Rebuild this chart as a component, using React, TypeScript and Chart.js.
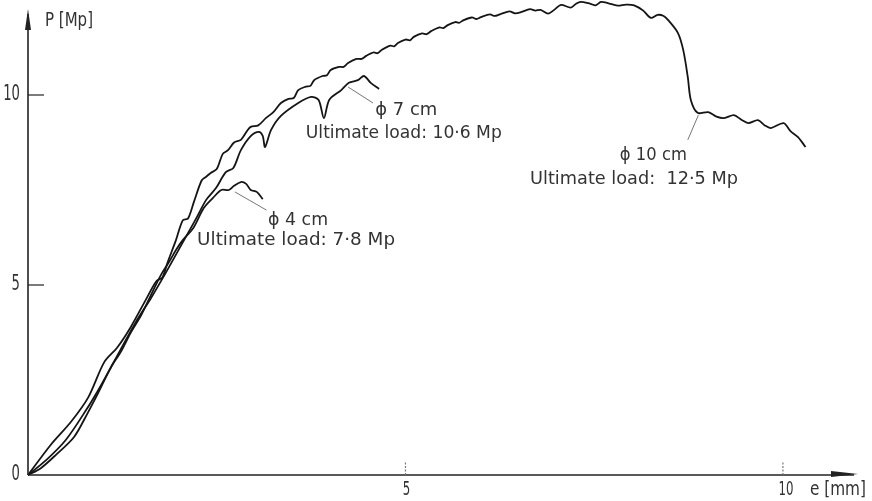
import React, { useEffect, useRef } from "react";
import { Chart, registerables } from "chart.js";

Chart.register(...registerables);

// Load P [Mp] against elongation e [mm]
const curve10cm: [number, number][] = [
  [0, 0], [0.3, 0.79], [0.57, 1.4], [0.8, 2.05], [1.01, 2.97], [1.18, 3.35], [1.36, 3.89],
  [1.56, 4.61], [1.7, 5.1], [1.78, 5.2], [1.85, 5.6], [1.96, 6.18], [2.05, 6.7], [2.12, 6.75],
  [2.2, 7.2], [2.3, 7.75], [2.36, 7.85], [2.42, 7.95], [2.5, 8.05], [2.58, 8.45], [2.65, 8.55],
  [2.73, 8.75], [2.82, 8.82], [2.9, 9.05], [2.95, 9.16], [3.05, 9.2], [3.15, 9.39], [3.25, 9.55],
  [3.35, 9.79], [3.45, 9.9], [3.52, 9.92], [3.58, 10.13], [3.68, 10.22], [3.74, 10.24],
  [3.79, 10.39], [3.9, 10.5], [3.96, 10.52], [4.01, 10.66], [4.12, 10.74], [4.18, 10.74],
  [4.24, 10.84], [4.35, 10.95], [4.42, 10.95], [4.48, 11.03], [4.58, 11.12], [4.63, 11.1],
  [4.68, 11.18], [4.8, 11.3], [4.85, 11.28], [4.9, 11.37], [5.0, 11.46], [5.06, 11.44],
  [5.11, 11.53], [5.22, 11.62], [5.28, 11.6], [5.34, 11.68], [5.45, 11.78], [5.5, 11.76],
  [5.56, 11.84], [5.66, 11.92], [5.71, 11.9], [5.77, 11.97], [5.88, 12.04], [5.94, 12.0],
  [6.0, 12.05], [6.12, 12.12], [6.18, 12.08], [6.26, 12.13], [6.38, 12.2], [6.45, 12.15],
  [6.53, 12.18], [6.65, 12.26], [6.72, 12.22], [6.79, 12.24], [6.89, 12.14], [6.97, 12.24],
  [7.06, 12.37], [7.19, 12.3], [7.26, 12.4], [7.32, 12.45], [7.45, 12.4], [7.52, 12.36],
  [7.59, 12.45], [7.68, 12.42], [7.81, 12.35], [7.92, 12.38], [8.03, 12.36], [8.15, 12.22],
  [8.25, 12.03], [8.34, 12.11], [8.42, 12.08], [8.48, 11.97], [8.61, 11.63], [8.68, 11.18],
  [8.74, 10.47], [8.78, 9.87], [8.87, 9.53], [9.01, 9.55], [9.12, 9.43], [9.22, 9.39],
  [9.35, 9.47], [9.45, 9.35], [9.54, 9.26], [9.67, 9.34], [9.76, 9.2], [9.84, 9.13],
  [10.01, 9.26], [10.1, 9.05], [10.2, 8.89], [10.3, 8.63],
];

const curve7cm: [number, number][] = [
  [0, 0], [0.24, 0.39], [0.5, 0.92], [0.77, 1.71], [0.97, 2.37], [1.21, 3.24], [1.43, 4.03],
  [1.63, 4.66], [1.83, 5.34], [2.03, 6.05], [2.23, 6.76], [2.36, 7.24], [2.49, 7.55],
  [2.62, 7.97], [2.72, 8.08], [2.82, 8.55], [2.95, 8.92], [3.06, 9.03], [3.11, 8.92],
  [3.14, 8.63], [3.22, 9.08], [3.35, 9.45], [3.58, 9.79], [3.75, 9.95], [3.85, 9.87],
  [3.92, 9.39], [3.99, 9.87], [4.15, 10.13], [4.25, 10.32], [4.37, 10.39], [4.45, 10.5],
  [4.54, 10.32], [4.65, 10.16],
];

const curve4cm: [number, number][] = [
  [0, 0], [0.17, 0.18], [0.37, 0.53], [0.61, 1.0], [0.79, 1.63], [0.93, 2.16], [1.1, 2.84],
  [1.23, 3.24], [1.36, 3.74], [1.5, 4.21], [1.63, 4.74], [1.76, 5.26], [1.87, 5.61],
  [1.96, 5.92], [2.05, 6.18], [2.19, 6.5], [2.33, 7.03], [2.45, 7.29], [2.56, 7.5],
  [2.66, 7.5], [2.73, 7.61], [2.82, 7.71], [2.89, 7.66], [2.95, 7.5], [3.03, 7.45], [3.11, 7.26],
];

const yTicks = [0, 5, 10];
const xTicks = [5, 10];
const yTickLabels = ["0", "5", "10"];
const xTickLabels = ["5", "10"];
const yAxisTitle = "P [Mp]";
const xAxisTitle = "e [mm]";

// annotation texts: [text, data x (left), data y (baseline)]
const labelTexts = ["ϕ 7 cm", "Ultimate load: 10·6 Mp", "ϕ 4 cm", "Ultimate load: 7·8 Mp", "ϕ 10 cm", "Ultimate load:  12·5 Mp"];
const labelX = [4.6, 3.68, 3.18, 2.24, 7.84, 6.65];
const labelY = [9.47, 8.87, 6.58, 6.05, 8.29, 7.66];
const labelW = [62, 196, 60, 198, 67, 208];

// leader lines from curve to label: [x1, y1, x2, y2] in data units
const leaders: [number, number, number, number][] = [
  [4.24, 10.21, 4.57, 9.79],
  [2.74, 7.45, 3.16, 6.97],
  [8.88, 9.47, 8.74, 8.82],
];

const FONT = '"DejaVu Sans", sans-serif';

function drawFit(ctx: CanvasRenderingContext2D, text: string, x: number, y: number, size: number, width: number) {
  ctx.save();
  ctx.font = `${size}px ${FONT}`;
  const w = ctx.measureText(text).width;
  ctx.translate(x, y);
  ctx.scale(width / w, 1);
  ctx.textAlign = "left";
  ctx.textBaseline = "alphabetic";
  ctx.fillText(text, 0, 0);
  ctx.restore();
}

function drawScaled(ctx: CanvasRenderingContext2D, text: string, x: number, y: number, size: number, sx: number, align: "left" | "right" | "center") {
  ctx.save();
  ctx.font = `${size}px ${FONT}`;
  const w = ctx.measureText(text).width;
  ctx.translate(x, y);
  ctx.scale(sx, 1);
  ctx.textBaseline = "middle";
  ctx.textAlign = "left";
  const ox = align === "left" ? 0 : align === "right" ? -w : -w / 2;
  ctx.fillText(text, ox, 0);
  ctx.restore();
}

const decorPlugin = {
  id: "decor",
  beforeDraw(chart: any) {
    const { ctx, width, height } = chart;
    ctx.save();
    ctx.fillStyle = "#fff";
    ctx.fillRect(0, 0, width, height);
    ctx.restore();
  },
  afterDraw(chart: any) {
    const { ctx } = chart;
    const xs = chart.scales.x;
    const ys = chart.scales.y;
    const x0 = xs.getPixelForValue(0);
    const y0 = ys.getPixelForValue(0);
    ctx.save();
    ctx.strokeStyle = "#222";
    ctx.fillStyle = "#222";
    ctx.lineWidth = 1.6;
    // y axis with arrow
    ctx.beginPath();
    ctx.moveTo(x0, y0);
    ctx.lineTo(x0, 14);
    ctx.stroke();
    ctx.beginPath();
    ctx.moveTo(x0, 9);
    ctx.lineTo(x0 - 3, 30);
    ctx.lineTo(x0 + 3, 30);
    ctx.closePath();
    ctx.fill();
    // x axis with arrow
    const xEnd = chart.width - 14;
    ctx.beginPath();
    ctx.moveTo(x0, y0);
    ctx.lineTo(xEnd - 4, y0);
    ctx.stroke();
    ctx.beginPath();
    ctx.moveTo(xEnd, y0 - 1);
    ctx.lineTo(xEnd - 27, y0 - 4);
    ctx.lineTo(xEnd - 27, y0 + 2);
    ctx.closePath();
    ctx.fill();
    // y ticks (inward)
    ctx.lineWidth = 1.2;
    yTicks.forEach((v, i) => {
      const py = ys.getPixelForValue(v);
      if (v !== 0) {
        ctx.beginPath();
        ctx.moveTo(x0, py);
        ctx.lineTo(x0 + 16, py);
        ctx.stroke();
      }
      ctx.fillStyle = "#333";
      drawScaled(ctx, yTickLabels[i], x0 - 8, py - 1, 22, 0.6, "right");
    });
    // x ticks (inward, dotted)
    xTicks.forEach((v, i) => {
      const px = xs.getPixelForValue(v);
      ctx.save();
      ctx.strokeStyle = "#777";
      ctx.setLineDash([2, 1.5]);
      ctx.beginPath();
      ctx.moveTo(px, y0);
      ctx.lineTo(px, y0 - 14);
      ctx.stroke();
      ctx.restore();
      ctx.fillStyle = "#333";
      drawScaled(ctx, xTickLabels[i], px + (v >= 10 ? 3 : 1), y0 + 15, 19, 0.62, "center");
    });
    // axis titles
    ctx.fillStyle = "#333";
    drawFit(ctx, yAxisTitle, x0 + 17, 26, 20, 48);
    drawFit(ctx, xAxisTitle, xs.getPixelForValue(10) + 27, y0 + 20, 20, 56);
    // leaders
    ctx.strokeStyle = "#666";
    ctx.lineWidth = 0.9;
    leaders.forEach(([a, b, c, d]) => {
      ctx.beginPath();
      ctx.moveTo(xs.getPixelForValue(a), ys.getPixelForValue(b));
      ctx.lineTo(xs.getPixelForValue(c), ys.getPixelForValue(d));
      ctx.stroke();
    });
    // labels
    ctx.fillStyle = "#333";
    labelTexts.forEach((t, i) => {
      drawFit(ctx, t, xs.getPixelForValue(labelX[i]), ys.getPixelForValue(labelY[i]), 17, labelW[i]);
    });
    ctx.restore();
  },
};

export default function App() {
  const ref = useRef<HTMLCanvasElement | null>(null);
  useEffect(() => {
    document.body.style.margin = "0";
    if (!ref.current) return;
    const mk = (d: [number, number][]) => d.map(([x, y]) => ({ x, y }));
    const common = { borderColor: "#151515", borderWidth: 1.8, pointRadius: 0, tension: 0.3, fill: false, clip: false as any };
    const chart = new Chart(ref.current, {
      type: "line",
      data: {
        datasets: [
          { label: "ϕ 10 cm", data: mk(curve10cm), ...common },
          { label: "ϕ 7 cm", data: mk(curve7cm), ...common },
          { label: "ϕ 4 cm", data: mk(curve4cm), ...common },
        ],
      },
      options: {
        responsive: false,
        animation: false,
        layout: { padding: { left: 28, right: 0, top: 0, bottom: 26 } },
        scales: {
          x: { type: "linear", min: 0, max: 11.18, display: false },
          y: { type: "linear", min: 0, max: 12.5, display: false },
        },
        plugins: { legend: { display: false }, tooltip: { enabled: false } },
      },
      plugins: [decorPlugin],
    });
    return () => chart.destroy();
  }, []);
  return (
    <div style={{ position: "absolute", left: 0, top: 0, width: 872, height: 501 }}>
      <canvas ref={ref} width={872} height={501} />
    </div>
  );
}
